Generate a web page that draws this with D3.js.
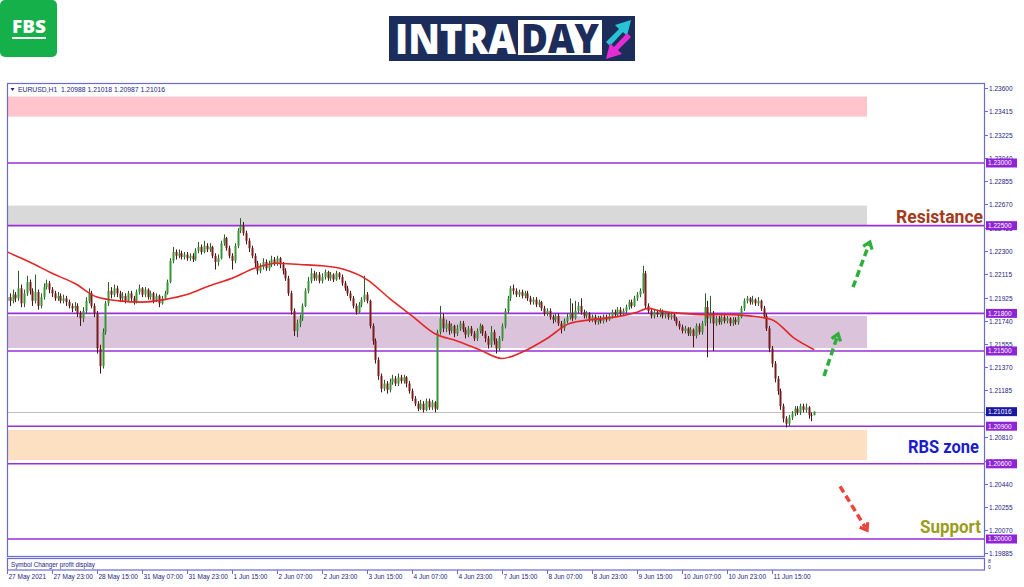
<!DOCTYPE html>
<html><head><meta charset="utf-8">
<script src="https://cdn.jsdelivr.net/npm/d3@7"></script>
<style>body{margin:0;background:#fff}svg{display:block}</style>
</head><body><svg id="c" width="1024" height="587"></svg>
<script>
// ---------- DATA (EURUSD H1) ----------
const firstOpen = 1.2190;
const closes = [
1.2193,1.2190,1.2195,1.2192,1.2200,1.2188,1.2196,1.2205,1.2198,1.2190,
1.2197,1.2186,1.2193,1.2201,1.2204,1.2199,1.2196,1.2192,1.2194,1.2190,
1.2192,1.2189,1.2186,1.2184,1.2186,1.2180,1.2176,1.2182,1.2190,1.2196,
1.2186,1.2180,1.2152,1.2138,1.2165,1.2188,1.2198,1.2195,1.2200,1.2196,
1.2192,1.2194,1.2190,1.2196,1.2192,1.2189,1.2197,1.2200,1.2195,1.2199,
1.2193,1.2196,1.2190,1.2194,1.2188,1.2192,1.2196,1.2205,1.2222,1.2229,
1.2226,1.2228,1.2225,1.2227,1.2224,1.2226,1.2223,1.2230,1.2233,1.2229,
1.2234,1.2231,1.2233,1.2226,1.2221,1.2224,1.2236,1.2240,1.2232,1.2226,
1.2222,1.2234,1.2246,1.2250,1.2244,1.2238,1.2232,1.2226,1.2220,1.2214,
1.2217,1.2221,1.2216,1.2219,1.2223,1.2220,1.2224,1.2219,1.2214,1.2208,
1.2196,1.2182,1.2166,1.2172,1.2176,1.2186,1.2198,1.2206,1.2212,1.2208,
1.2211,1.2206,1.2209,1.2213,1.2208,1.2211,1.2207,1.2212,1.2209,1.2204,
1.2200,1.2196,1.2192,1.2186,1.2181,1.2187,1.2191,1.2195,1.2190,1.2170,
1.2158,1.2143,1.2130,1.2120,1.2124,1.2119,1.2125,1.2128,1.2124,1.2129,
1.2126,1.2129,1.2124,1.2118,1.2112,1.2108,1.2104,1.2108,1.2103,1.2110,
1.2105,1.2109,1.2104,1.2165,1.2176,1.2168,1.2172,1.2166,1.2170,1.2164,
1.2168,1.2172,1.2167,1.2163,1.2168,1.2164,1.2160,1.2166,1.2170,1.2164,
1.2160,1.2155,1.2165,1.2158,1.2152,1.2160,1.2170,1.2182,1.2192,1.2200,
1.2198,1.2195,1.2197,1.2194,1.2196,1.2192,1.2189,1.2191,1.2187,1.2189,
1.2184,1.2180,1.2182,1.2177,1.2175,1.2178,1.2172,1.2168,1.2174,1.2177,
1.2180,1.2176,1.2182,1.2186,1.2181,1.2178,1.2180,1.2175,1.2177,1.2173,
1.2176,1.2174,1.2177,1.2175,1.2178,1.2181,1.2179,1.2183,1.2180,1.2182,
1.2185,1.2189,1.2186,1.2192,1.2195,1.2198,1.2212,1.2186,1.2182,1.2178,
1.2181,1.2179,1.2182,1.2178,1.2180,1.2177,1.2179,1.2176,1.2172,1.2169,
1.2166,1.2168,1.2164,1.2167,1.2162,1.2170,1.2165,1.2172,1.2185,1.2176,
1.2180,1.2172,1.2176,1.2173,1.2177,1.2174,1.2176,1.2172,1.2175,1.2173,
1.2177,1.2184,1.2190,1.2192,1.2189,1.2191,1.2188,1.2190,1.2184,1.2178,
1.2168,1.2152,1.2140,1.2128,1.2118,1.2106,1.2096,1.2092,1.2097,1.2100,
1.2104,1.2101,1.2106,1.2103,1.2105,1.2099,1.20988,1.21016];
const highs = [
1.2197,1.2196,1.2199,1.2197,1.2214,1.2203,1.2199,1.2210,1.2207,1.2200,
1.2211,1.2199,1.2196,1.2204,1.2207,1.2206,1.2201,1.2198,1.2197,1.2196,
1.2195,1.2194,1.2191,1.2188,1.2189,1.2188,1.2182,1.2185,1.2193,1.2200,
1.2198,1.2188,1.2182,1.2155,1.2168,1.2190,1.2205,1.2201,1.2203,1.2202,
1.2198,1.2197,1.2196,1.2198,1.2198,1.2194,1.2199,1.2203,1.2201,1.2201,
1.2200,1.2198,1.2197,1.2196,1.2195,1.2194,1.2198,1.2207,1.2224,1.2233,
1.2231,1.2231,1.2230,1.2229,1.2229,1.2228,1.2228,1.2232,1.2237,1.2235,
1.2238,1.2236,1.2236,1.2234,1.2228,1.2227,1.2238,1.2243,1.2241,1.2234,
1.2228,1.2236,1.2248,1.2256,1.2253,1.2246,1.2240,1.2234,1.2228,1.2222,
1.2220,1.2224,1.2223,1.2222,1.2226,1.2225,1.2226,1.2225,1.2221,1.2216,
1.2210,1.2198,1.2184,1.2175,1.2179,1.2188,1.2200,1.2209,1.2216,1.2214,
1.2213,1.2213,1.2212,1.2215,1.2214,1.2213,1.2212,1.2214,1.2213,1.2211,
1.2206,1.2202,1.2198,1.2194,1.2188,1.2189,1.2193,1.2210,1.2197,1.2191,
1.2172,1.2160,1.2145,1.2132,1.2127,1.2126,1.2128,1.2131,1.2130,1.2132,
1.2131,1.2131,1.2130,1.2126,1.2120,1.2114,1.2110,1.2111,1.2110,1.2112,
1.2112,1.2111,1.2110,1.2167,1.2186,1.2180,1.2175,1.2174,1.2172,1.2171,
1.2171,1.2174,1.2174,1.2169,1.2170,1.2170,1.2166,1.2168,1.2172,1.2171,
1.2166,1.2162,1.2170,1.2167,1.2160,1.2162,1.2172,1.2184,1.2194,1.2202,
1.2203,1.2200,1.2199,1.2199,1.2198,1.2198,1.2194,1.2193,1.2193,1.2191,
1.2190,1.2186,1.2184,1.2184,1.2179,1.2180,1.2180,1.2174,1.2176,1.2180,
1.2192,1.2188,1.2190,1.2189,1.2192,1.2183,1.2182,1.2181,1.2179,1.2179,
1.2178,1.2178,1.2179,1.2179,1.2180,1.2183,1.2183,1.2185,1.2185,1.2184,
1.2187,1.2191,1.2191,1.2194,1.2197,1.2200,1.2218,1.2214,1.2188,1.2184,
1.2183,1.2183,1.2184,1.2183,1.2182,1.2181,1.2181,1.2180,1.2177,1.2174,
1.2171,1.2170,1.2169,1.2169,1.2168,1.2172,1.2172,1.2174,1.2196,1.2190,
1.2194,1.2182,1.2178,1.2178,1.2179,1.2179,1.2178,1.2177,1.2177,1.2177,
1.2179,1.2186,1.2192,1.2194,1.2193,1.2194,1.2192,1.2193,1.2191,1.2186,
1.2180,1.2170,1.2154,1.2142,1.2130,1.2120,1.2108,1.2098,1.2099,1.2102,
1.2106,1.2106,1.2108,1.2108,1.2108,1.2106,1.2101,1.21018];
const lows = [
1.2187,1.2186,1.2188,1.2189,1.2190,1.2185,1.2185,1.2194,1.2195,1.2186,
1.2188,1.2183,1.2184,1.2191,1.2199,1.2196,1.2193,1.2190,1.2190,1.2188,
1.2188,1.2186,1.2184,1.2181,1.2182,1.2177,1.2170,1.2173,1.2180,1.2188,
1.2184,1.2177,1.2148,1.2132,1.2136,1.2163,1.2186,1.2192,1.2193,1.2193,
1.2189,1.2190,1.2188,1.2189,1.2190,1.2187,1.2188,1.2195,1.2193,1.2193,
1.2191,1.2191,1.2188,1.2189,1.2185,1.2187,1.2191,1.2195,1.2204,1.2220,
1.2223,1.2224,1.2223,1.2223,1.2222,1.2222,1.2221,1.2222,1.2228,1.2227,
1.2228,1.2229,1.2229,1.2224,1.2215,1.2218,1.2223,1.2234,1.2230,1.2224,
1.2215,1.2220,1.2232,1.2244,1.2242,1.2235,1.2229,1.2224,1.2217,1.2211,
1.2212,1.2215,1.2214,1.2214,1.2217,1.2218,1.2218,1.2216,1.2211,1.2206,
1.2194,1.2179,1.2162,1.2161,1.2169,1.2174,1.2185,1.2196,1.2204,1.2206,
1.2206,1.2204,1.2204,1.2207,1.2206,1.2206,1.2205,1.2206,1.2207,1.2202,
1.2198,1.2194,1.2190,1.2184,1.2179,1.2180,1.2185,1.2189,1.2188,1.2168,
1.2155,1.2140,1.2127,1.2117,1.2118,1.2116,1.2117,1.2123,1.2122,1.2122,
1.2124,1.2124,1.2121,1.2116,1.2110,1.2106,1.2102,1.2103,1.2101,1.2102,
1.2103,1.2103,1.2101,1.2103,1.2163,1.2165,1.2165,1.2163,1.2164,1.2161,
1.2162,1.2166,1.2165,1.2160,1.2161,1.2162,1.2158,1.2158,1.2164,1.2162,
1.2157,1.2152,1.2153,1.2155,1.2148,1.2150,1.2158,1.2168,1.2180,1.2190,
1.2195,1.2193,1.2193,1.2192,1.2192,1.2190,1.2187,1.2187,1.2185,1.2185,
1.2182,1.2178,1.2178,1.2175,1.2172,1.2173,1.2170,1.2164,1.2166,1.2172,
1.2175,1.2174,1.2175,1.2180,1.2179,1.2176,1.2176,1.2173,1.2173,1.2171,
1.2171,1.2172,1.2172,1.2173,1.2174,1.2176,1.2177,1.2177,1.2178,1.2178,
1.2180,1.2183,1.2184,1.2185,1.2190,1.2193,1.2196,1.2184,1.2180,1.2176,
1.2176,1.2177,1.2177,1.2176,1.2176,1.2175,1.2175,1.2174,1.2170,1.2167,
1.2164,1.2164,1.2162,1.2162,1.2153,1.2160,1.2163,1.2163,1.2170,1.2145,
1.2172,1.2150,1.2170,1.2171,1.2171,1.2172,1.2172,1.2170,1.2170,1.2171,
1.2171,1.2176,1.2182,1.2188,1.2187,1.2187,1.2186,1.2186,1.2182,1.2176,
1.2166,1.2149,1.2137,1.2125,1.2115,1.2103,1.2093,1.2089,1.2090,1.2095,
1.2098,1.2099,1.2099,1.2101,1.2101,1.2096,1.2094,1.20987];

// moving average (red line), sampled at bar indices
const maIdx = [0,8,16,24,32,40,48,56,64,72,80,88,96,104,112,120,128,136,144,152,160,168,176,184,192,200,208,216,224,228,232,240,248,256,264,272,280,287];
const maVals = [1.2229,1.2221,1.2212,1.2204,1.2193,1.2190,1.2189,1.2191,1.2195,1.2202,1.2208,1.2216,1.2220,1.2219,1.2218,1.2215,1.2207,1.2192,1.2178,1.2164,1.2158,1.2151,1.2144,1.2150,1.2160,1.2172,1.2175,1.2177,1.2181,1.2184,1.2182,1.2180,1.2179,1.2179,1.2178,1.2175,1.2160,1.2151];

// price axis ticks (1.21000 lies fully under the current-price box, so only its tick mark shows)
const yTicks = [1.23600,1.23415,1.23225,1.23040,1.22855,1.22670,1.22485,1.22300,1.22115,1.21925,1.21740,1.21555,1.21370,1.21185,1.21000,1.20810,1.20625,1.20440,1.20255,1.20070,1.19885];
const hiddenTickLabels = [1.21000];
// time axis
const timeIdx = [0,16,32,48,64,80,96,112,128,144,160,176,192,208,224,240,256,272];
const timeLabels = ["27 May 2021","27 May 23:00","28 May 15:00","31 May 07:00","31 May 23:00","1 Jun 15:00","2 Jun 07:00","2 Jun 23:00","3 Jun 15:00","4 Jun 07:00","4 Jun 23:00","7 Jun 15:00","8 Jun 07:00","8 Jun 23:00","9 Jun 15:00","10 Jun 07:00","10 Jun 23:00","11 Jun 15:00"];

// horizontal levels and zones
const levels = [1.2300,1.2250,1.2180,1.2150,1.2090,1.2060,1.2000];
const currentPrice = 1.21016;
const zoneTop    = [1.2353,1.2266,1.21779,1.2087];
const zoneBottom = [1.2337,1.2250,1.21524,1.2063];
const zoneEndBar = 305.8;
const header = "EURUSD,H1  1.20988 1.21018 1.20987 1.21016";

// annotation arrows [bar, price]
const arrowFrom = [[290.5,1.2130],[300.8,1.2201],[296.2,1.2042]];
const arrowTo   = [[295.5,1.21636],[306.8,1.2237],[305.8,1.2007]];

// ---------- STYLE ----------
const zoneColors = ["#ffc4cc","#d9d9d9","#dcc3dc","#fde0c2"];
const arrowColors = ["#2fae3c","#2fae3c","#e8453c"];
const frameCol = "#6a6ad2", axisText = "#23237e", levelCol = "#9a2fd8";
const FONT = "'Liberation Sans', Arial, sans-serif";

const svg = d3.select('#c');
svg.append('rect').attr('width',1024).attr('height',587).attr('fill','#fff');

const X0 = 7, X1 = 985, Y0 = 83, Y1 = 556.5;
const x = d3.scaleLinear().domain([0,287]).range([7,814.2]);
const y = d3.scaleLinear().domain([1.2,1.23]).range([539,163]);

svg.append('clipPath').attr('id','clip').append('rect')
  .attr('x',X0).attr('y',Y0).attr('width',X1-X0).attr('height',Y1-Y0);
const g = svg.append('g').attr('clip-path','url(#clip)');

// zones
g.selectAll('rect.zone').data(zoneTop).join('rect').attr('class','zone')
  .attr('x',x(0)).attr('width',x(zoneEndBar)-x(0))
  .attr('y',d=>y(d)).attr('height',(d,i)=>y(zoneBottom[i])-y(d))
  .attr('fill',(d,i)=>zoneColors[i]);

// current price line
g.append('line').attr('x1',X0).attr('x2',X1)
  .attr('y1',Math.round(y(currentPrice))+0.5).attr('y2',Math.round(y(currentPrice))+0.5)
  .attr('stroke','#bfbfbf').attr('stroke-width',1);

// level lines
g.selectAll('line.lvl').data(levels).join('line').attr('class','lvl')
  .attr('x1',X0).attr('x2',X1)
  .attr('y1',d=>y(d)).attr('y2',d=>y(d))
  .attr('stroke',levelCol).attr('stroke-width',1.6);

// candles
const opens = closes.map((c,i)=> i===0 ? firstOpen : closes[i-1]);
const cg = g.append('g');
closes.forEach((c,i)=>{
  const o = opens[i], up = c >= o;
  const cx = Math.round(x(i));
  cg.append('line').attr('x1',cx+0.5).attr('x2',cx+0.5)
    .attr('y1',y(highs[i])).attr('y2',y(lows[i]))
    .attr('stroke',up ? '#2a5e2a' : '#4a1414').attr('stroke-width',1);
  const top = y(Math.max(o,c)), bot = y(Math.min(o,c));
  cg.append('rect').attr('x',cx-0.5).attr('width',2)
    .attr('y',top).attr('height',Math.max(1,bot-top))
    .attr('fill',up ? '#369636' : '#7a1c1c');
});

// moving average
const maLine = d3.line().x((d,i)=>x(maIdx[i])).y(d=>y(d)).curve(d3.curveMonotoneX);
g.append('path').attr('d',maLine(maVals)).attr('fill','none')
  .attr('stroke','#e32626').attr('stroke-width',1.6);

// arrows
arrowFrom.forEach((f,i)=>{
  const t = arrowTo[i];
  const x1 = x(f[0]), y1 = y(f[1]), x2 = x(t[0]), y2 = y(t[1]);
  const ang = Math.atan2(y2-y1, x2-x1);
  const sx = x2 - Math.cos(ang)*3, sy = y2 - Math.sin(ang)*3;
  g.append('line').attr('x1',x1).attr('y1',y1).attr('x2',sx).attr('y2',sy)
    .attr('stroke',arrowColors[i]).attr('stroke-width',3.5).attr('stroke-dasharray','7,4');
  const L = 8, a = Math.PI/5;
  const p1 = [x2 - L*Math.cos(ang-a), y2 - L*Math.sin(ang-a)];
  const p2 = [x2 - L*Math.cos(ang+a), y2 - L*Math.sin(ang+a)];
  g.append('polyline').attr('points',[p1,[x2,y2],p2].map(p=>p.join(',')).join(' '))
    .attr('fill','none').attr('stroke',arrowColors[i]).attr('stroke-width',3.2)
    .attr('stroke-linejoin','miter');
});

// zone labels
const labelTxt = [["Resistance",223,"#a33a1c",87,983],["RBS zone",453,"#1c1ccc",71,979],["Support",533,"#9c9c1c",61,981]];
labelTxt.forEach(l=>{
  svg.append('text').text(l[0]).attr('x',l[4]).attr('y',l[1])
    .attr('text-anchor','end').attr('font-family',"Roboto, 'Open Sans', sans-serif")
    .attr('font-weight',700).attr('font-size',17.5).attr('fill',l[2])
    .attr('textLength',l[3]).attr('lengthAdjust','spacingAndGlyphs');
});

// frames
svg.append('rect').attr('x',X0+0.5).attr('y',Y0+0.5).attr('width',X1-X0-1).attr('height',Y1-Y0-0.5)
  .attr('fill','none').attr('stroke',frameCol).attr('stroke-width',1.2);
svg.append('rect').attr('x',X0+0.5).attr('y',558.5).attr('width',X1-X0-1).attr('height',11.5)
  .attr('fill','none').attr('stroke',frameCol).attr('stroke-width',1.2);
svg.append('text').text('Symbol Changer profit display').attr('x',11).attr('y',566.5)
  .attr('font-family',FONT).attr('font-size',6.3).attr('fill',axisText);
svg.append('text').text('8').attr('x',988).attr('y',563).attr('font-family',FONT).attr('font-size',5).attr('fill',axisText);
svg.append('text').text('0').attr('x',988).attr('y',569).attr('font-family',FONT).attr('font-size',5).attr('fill',axisText);

// header
svg.append('path').attr('d','M10.5,88 L14.5,88 L12.5,91 Z').attr('fill',axisText);
svg.append('text').text(header).attr('x',18).attr('y',92)
  .attr('font-family',FONT).attr('font-size',6.8).attr('fill',axisText).attr('xml:space','preserve');

// price axis
const fmt = d3.format('.5f');
yTicks.forEach(v=>{
  const yy = Math.round(y(v))+0.5;
  svg.append('line').attr('x1',X1).attr('x2',X1+3).attr('y1',yy).attr('y2',yy).attr('stroke',frameCol);
  if (hiddenTickLabels.includes(v)) return;
  svg.append('text').text(fmt(v)).attr('x',989).attr('y',yy+2.3)
    .attr('font-family',FONT).attr('font-size',6.5).attr('fill',axisText);
});
// level boxes
const boxes = levels.map(v=>[v,'#8e24d6']).concat([[currentPrice,'#1a1aa0']]);
boxes.forEach(b=>{
  const yy = y(b[0]);
  svg.append('rect').attr('x',986).attr('y',yy-4.5).attr('width',31).attr('height',9).attr('fill',b[1]);
  svg.append('text').text(fmt(b[0])).attr('x',988).attr('y',yy+2.4)
    .attr('font-family',FONT).attr('font-size',6.5).attr('fill','#fff');
});

// time axis
timeIdx.forEach((bi,i)=>{
  const xx = Math.round(x(bi))+0.5;
  svg.append('line').attr('x1',xx).attr('x2',xx).attr('y1',570).attr('y2',574).attr('stroke',frameCol);
  svg.append('text').text(timeLabels[i]).attr('x',xx+1).attr('y',579)
    .attr('font-family',FONT).attr('font-size',6.5).attr('fill',axisText);
});

// ---------- logos ----------
const fbs = svg.append('g');
fbs.append('rect').attr('x',0).attr('y',0).attr('width',57).attr('height',57).attr('rx',5).attr('fill','#16b04a');
fbs.append('text').text('FBS').attr('x',29).attr('y',33).attr('text-anchor','middle')
  .attr('font-family',"'Open Sans', Roboto, sans-serif").attr('font-weight',800).attr('font-size',18).attr('fill','#fff')
  .attr('textLength',34).attr('lengthAdjust','spacingAndGlyphs');
fbs.append('rect').attr('x',12).attr('y',37).attr('width',34).attr('height',2).attr('fill','#fff');

const logo = svg.append('g');
logo.append('rect').attr('x',389).attr('y',16).attr('width',246).attr('height',45).attr('fill','#1c2d5c');
logo.append('text').text('INTRA').attr('x',395).attr('y',54)
  .attr('font-family',"'Open Sans', Roboto, sans-serif").attr('font-weight',800).attr('font-size',42).attr('fill','#fff')
  .attr('textLength',121).attr('lengthAdjust','spacingAndGlyphs');
logo.append('rect').attr('x',518).attr('y',20).attr('width',84).attr('height',35).attr('fill','#fff');
logo.append('text').text('DAY').attr('x',521).attr('y',53)
  .attr('font-family',"'Open Sans', Roboto, sans-serif").attr('font-weight',800).attr('font-size',40).attr('fill','#1c2d5c')
  .attr('textLength',78).attr('lengthAdjust','spacingAndGlyphs');
logo.append('polygon').attr('points','606,42 619,29 615,25 631,20 627,36 623,32 610,46').attr('fill','#27c4d4');
logo.append('polygon').attr('points','631,37 618,50 622,54 606,59 610,43 614,47 627,33').attr('fill','#e52bd3');
</script></body></html>
